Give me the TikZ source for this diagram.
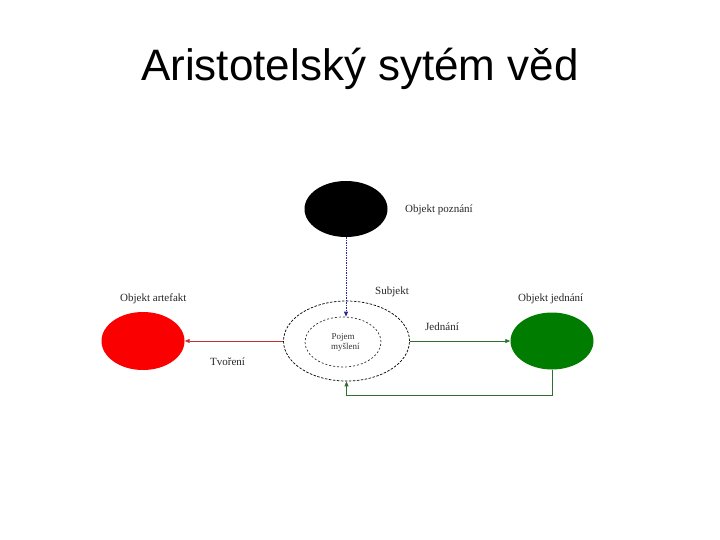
\documentclass[tikz,border=0pt]{standalone}
\usepackage{fontspec}
\setmainfont{Liberation Serif}
\newfontfamily\titlefont{Liberation Sans}
\usetikzlibrary{shapes.geometric,arrows.meta}
\definecolor{myred}{RGB}{250,0,0}
\definecolor{mygreen}{RGB}{0,125,0}
\definecolor{lnred}{RGB}{190,50,50}
\definecolor{lngreen}{RGB}{50,110,50}
\definecolor{lnblue}{RGB}{40,40,150}
\tikzset{
  blob/.style={ellipse, draw=none, minimum width=83pt, minimum height=57pt, inner sep=0pt},
  lbl/.style={font=\fontsize{11}{12}\selectfont, inner sep=0pt, anchor=west, text=black!85},
  tip/.style={-{Triangle[length=5pt,width=4pt]}},
}
\begin{document}
\begin{tikzpicture}[x=1pt,y=-1pt]
\useasboundingbox (0,0) rectangle (720,540);
\node[font=\titlefont\fontsize{44}{48}\selectfont, inner sep=0pt] (title) at (360,69) {Aristotelský sytém věd};

\node[blob, fill=black, minimum height=56pt] (poz) at (346,209) {};
\node[blob, fill=myred, minimum height=58pt] (art) at (143,341) {};
\node[blob, fill=mygreen] (jed) at (552,341) {};

\node[ellipse, draw=black, line width=0.7pt, dash pattern=on 2.5pt off 1.5pt, minimum width=126pt, minimum height=80pt, inner sep=0pt] (subj) at (346.5,341) {};
\node[ellipse, draw=black!80, line width=0.7pt, dash pattern=on 2pt off 2pt, minimum width=76pt, minimum height=50pt, inner sep=0pt, align=center, font=\fontsize{9}{10}\selectfont, text=black!80] (pojem) at (343,342) {Pojem\\\ \ myšlení};

\node[lbl] (lpoz) at (405,210) {Objekt poznání};
\node[lbl] (lart) at (120,299) {Objekt artefakt};
\node[lbl] (ltvo) at (210,362) {Tvoření};
\node[lbl] (lsub) at (375,292) {Subjekt};
\node[lbl] (ljed) at (425,327) {Jednání};
\node[lbl] (lojed) at (518,299) {Objekt jednání};

\draw[lnblue, line width=0.8pt, dash pattern=on 1.5pt off 1pt, tip] (poz.south) -- (poz.south |- pojem.north);
\draw[lnred, line width=0.8pt, tip] (subj.west) -- (art.east);
\draw[lngreen, line width=0.8pt, tip] (subj.east) -- (jed.west);
\coordinate (c1) at (552,395);
\coordinate (c2) at (346.5,395);
\draw[lngreen, line width=0.9pt, tip] (jed.south) -- (c1) -- (c2) -- (subj.south);
\end{tikzpicture}
\end{document}
